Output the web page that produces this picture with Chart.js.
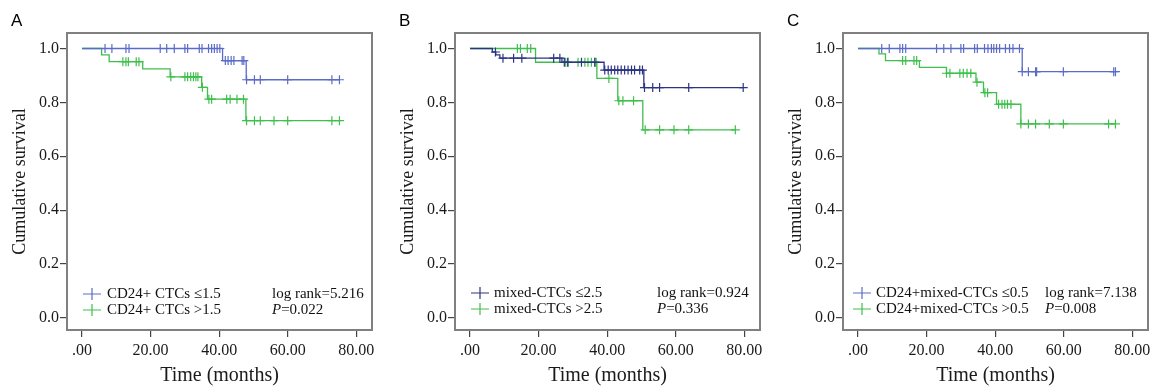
<!DOCTYPE html>
<html>
<head>
<meta charset="utf-8">
<script src="https://cdn.jsdelivr.net/npm/chart.js@4.4.1/dist/chart.umd.min.js"></script>
<style>
  body { margin: 0; background: #fff; }
  #wrap { position: relative; width: 1156px; height: 389px; overflow: hidden; }
  .panel { position: absolute; top: 0; width: 388px; height: 389px; }
  .letter { position: absolute; left: 11px; top: 12px; font: 17px 'Liberation Sans', Arial, sans-serif; line-height: 17px; color: #000; }
</style>
</head>
<body>
<div id="wrap">
  <div class="panel" style="left:0"><canvas id="chartA" width="388" height="389"></canvas><div class="letter">A</div></div>
  <div class="panel" style="left:388px"><canvas id="chartB" width="388" height="389"></canvas><div class="letter">B</div></div>
  <div class="panel" style="left:776px"><canvas id="chartC" width="388" height="389"></canvas><div class="letter">C</div></div>
</div>
<script>
const xTicks = [0, 20, 40, 60, 80];
const yTicks = [0, 0.2, 0.4, 0.6, 0.8, 1.0];

// Panel A: CD24+ CTCs
const aLowTimes = [0, 41, 47.9, 75.1];
const aLowSurv = [1, 0.955, 0.884, 0.884];
const aLowCens = [6.7, 8.7, 12.8, 13.7, 22.8, 24.7, 26.9, 30, 30.8, 34.2, 35, 36.9, 37.8, 38.6, 39.4, 40.2, 41.8, 42.6, 43.5, 44.3, 46.7, 47.2, 48, 50.3, 52, 60, 72.9, 75.1];
const aHighTimes = [0, 5.7, 7.9, 17.7, 25.7, 34.9, 36.6, 47.8, 75.1];
const aHighSurv = [1, 0.976, 0.951, 0.924, 0.895, 0.856, 0.812, 0.732, 0.732];
const aHighCens = [11.9, 12.8, 13.5, 15.8, 16.6, 25.9, 30, 30.8, 31.7, 32.5, 33.2, 33.8, 35.1, 37, 37.8, 42.2, 43.2, 45.2, 47.1, 48, 50.3, 52, 56, 60, 72.9, 75.1];
const aLabels = ['CD24+ CTCs \u22641.5', 'CD24+ CTCs >1.5'];
const aStats = ['log rank=5.216', '0.022'];

// Panel B: mixed-CTCs
const bLowTimes = [0, 6.5, 7.5, 8.7, 26.8, 39.1, 50.7, 79.7];
const bLowSurv = [1, 0.987, 0.976, 0.964, 0.949, 0.920, 0.855, 0.855];
const bLowCens = [7.4, 9.6, 12.7, 15.1, 24.4, 26.2, 27.5, 28.5, 32.5, 36.4, 39.3, 40.3, 41.2, 42.2, 43.1, 44.1, 45.1, 46.1, 47.1, 48, 49.5, 50.3, 50.9, 53.3, 55.3, 63.8, 79.7];
const bHighTimes = [0, 19.1, 37, 43.1, 50.4, 77.4];
const bHighSurv = [1, 0.949, 0.889, 0.806, 0.698, 0.698];
const bHighCens = [13.8, 14.7, 16.7, 17.7, 27.9, 28.6, 31.5, 33.5, 34.4, 35.4, 36.4, 36.8, 40.5, 43.4, 44.6, 47.7, 51.1, 55.3, 59.5, 63.8, 77.4];
const bLabels = ['mixed-CTCs \u22642.5', 'mixed-CTCs >2.5'];
const bStats = ['log rank=0.924', '0.336'];

// Panel C: CD24+ mixed-CTCs
const cLowTimes = [0, 47.9, 75.1];
const cLowSurv = [1, 0.914, 0.914];
const cLowCens = [6.9, 9.1, 12.2, 13, 13.9, 22.9, 25, 27.1, 30, 30.8, 34, 34.8, 36.9, 37.9, 38.9, 39.6, 40.4, 41.3, 43, 44.2, 45.2, 47.1, 47.9, 49.7, 51.8, 52.1, 59.9, 74.6, 75.1];
const cHighTimes = [0, 6.1, 8, 17.9, 25.8, 34.4, 36.6, 40.4, 47.5, 75.1];
const cHighSurv = [1, 0.980, 0.955, 0.930, 0.908, 0.875, 0.836, 0.793, 0.720, 0.720];
const cHighCens = [13, 13.9, 16.3, 17.1, 25.8, 26.8, 29.7, 30.7, 31.8, 32.9, 34.7, 37, 37.8, 41, 42, 42.8, 43.6, 44.6, 47.5, 49.7, 51.8, 55.8, 59.9, 73.1, 75.1];
const cLabels = ['CD24+mixed-CTCs \u22640.5', 'CD24+mixed-CTCs >0.5'];
const cStats = ['log rank=7.138', '0.008'];

const serif = '"Liberation Serif", "Times New Roman", serif';
const green = '#3fbf4c';

// survival level of a curve at time t (for the censor ticks)
function levelAt(times, surv, t) {
  let s = surv[0];
  for (let i = 0; i < times.length; i++) {
    if (times[i] <= t) s = surv[i];
  }
  return s;
}

const boxPlugin = {
  id: 'box',
  beforeDatasetsDraw(chart) {
    const a = chart.chartArea;
    const ctx = chart.ctx;
    ctx.save();
    ctx.strokeStyle = '#808080';
    ctx.lineWidth = 2;
    ctx.strokeRect(a.left, a.top, a.right - a.left, a.bottom - a.top);
    ctx.restore();
  }
};

const kmLegend = {
  id: 'kmLegend',
  afterDraw(chart, args, opts) {
    const ctx = chart.ctx;
    ctx.save();
    ctx.textBaseline = 'middle';
    opts.labels.forEach((lab, i) => {
      const y = opts.rowY[i];
      ctx.strokeStyle = opts.colors[i];
      ctx.lineWidth = 1.2;
      ctx.beginPath();
      ctx.moveTo(opts.markX, y);
      ctx.lineTo(opts.markX + 18, y);
      ctx.moveTo(opts.markX + 9, y - 6);
      ctx.lineTo(opts.markX + 9, y + 6);
      ctx.stroke();
      ctx.fillStyle = '#111';
      ctx.font = '15px ' + serif;
      ctx.fillText(lab, opts.textX, y);
    });
    ctx.fillText(opts.stats[0], opts.statX, opts.rowY[0]);
    ctx.font = 'italic 15px ' + serif;
    ctx.fillText('P', opts.statX, opts.rowY[1]);
    const w = ctx.measureText('P').width;
    ctx.font = '15px ' + serif;
    ctx.fillText('=' + opts.stats[1], opts.statX + w, opts.rowY[1]);
    ctx.restore();
  }
};

function makeChart(id, curves, labels, stats, colors, leg) {
  const datasets = [];
  curves.forEach((c, i) => {
    datasets.push({
      type: 'line',
      data: c.times.map((t, k) => ({ x: t, y: c.surv[k] })),
      stepped: true,
      borderColor: colors[i],
      borderWidth: 1.3,
      pointRadius: 0,
      fill: false
    });
    datasets.push({
      type: 'scatter',
      data: c.cens.map(t => ({ x: t, y: levelAt(c.times, c.surv, t) })),
      showLine: false,
      pointStyle: 'cross',
      pointRadius: 4.5,
      borderColor: colors[i],
      backgroundColor: colors[i],
      borderWidth: 1.2
    });
  });

  new Chart(document.getElementById(id), {
    type: 'line',
    data: { datasets: datasets },
    options: {
      responsive: false,
      animation: false,
      events: [],
      layout: { padding: { top: 33, right: 16, left: 0, bottom: 0 } },
      plugins: {
        legend: { display: false },
        tooltip: { enabled: false },
        kmLegend: {
          labels: labels, stats: stats, colors: colors,
          rowY: leg.rowY, markX: leg.markX, textX: leg.textX, statX: leg.statX
        }
      },
      scales: {
        x: {
          type: 'linear',
          min: -4.4,
          max: 84.6,
          afterBuildTicks: s => { s.ticks = xTicks.map(v => ({ value: v })); },
          afterFit: s => { s.height = 59; },
          ticks: {
            color: '#1a1a1a',
            font: { family: serif, size: 16 },
            padding: 4,
            maxRotation: 0,
            callback: v => v === 0 ? '.00' : v.toFixed(2)
          },
          grid: { drawOnChartArea: false, drawTicks: true, tickLength: 7, color: '#444', lineWidth: 1.2 },
          border: { display: false },
          title: {
            display: true,
            text: 'Time (months)',
            color: '#1a1a1a',
            font: { family: serif, size: 20 },
            padding: { top: 2, bottom: 1 }
          }
        },
        y: {
          min: -0.045,
          max: 1.0575,
          afterBuildTicks: s => { s.ticks = yTicks.map(v => ({ value: v })); },
          afterFit: s => { s.width = 67; },
          ticks: {
            color: '#1a1a1a',
            font: { family: serif, size: 16 },
            padding: 1,
            callback: v => v.toFixed(1)
          },
          grid: { drawOnChartArea: false, drawTicks: true, tickLength: 7, color: '#444', lineWidth: 1.2 },
          border: { display: false },
          title: {
            display: true,
            text: 'Cumulative survival',
            color: '#1a1a1a',
            font: { family: serif, size: 18 },
            padding: { top: 9, bottom: 0 }
          }
        }
      }
    },
    plugins: [boxPlugin, kmLegend]
  });
}

makeChart('chartA',
  [{ times: aLowTimes, surv: aLowSurv, cens: aLowCens }, { times: aHighTimes, surv: aHighSurv, cens: aHighCens }],
  aLabels, aStats, ['#5a6cc8', green],
  { rowY: [294, 310], markX: 83, textX: 107, statX: 272 });

makeChart('chartB',
  [{ times: bLowTimes, surv: bLowSurv, cens: bLowCens }, { times: bHighTimes, surv: bHighSurv, cens: bHighCens }],
  bLabels, bStats, ['#2d3484', green],
  { rowY: [293, 309], markX: 83, textX: 106, statX: 269 });

makeChart('chartC',
  [{ times: cLowTimes, surv: cLowSurv, cens: cLowCens }, { times: cHighTimes, surv: cHighSurv, cens: cHighCens }],
  cLabels, cStats, ['#5a6cc8', green],
  { rowY: [293, 309], markX: 77, textX: 100, statX: 269 });
</script>
</body>
</html>
